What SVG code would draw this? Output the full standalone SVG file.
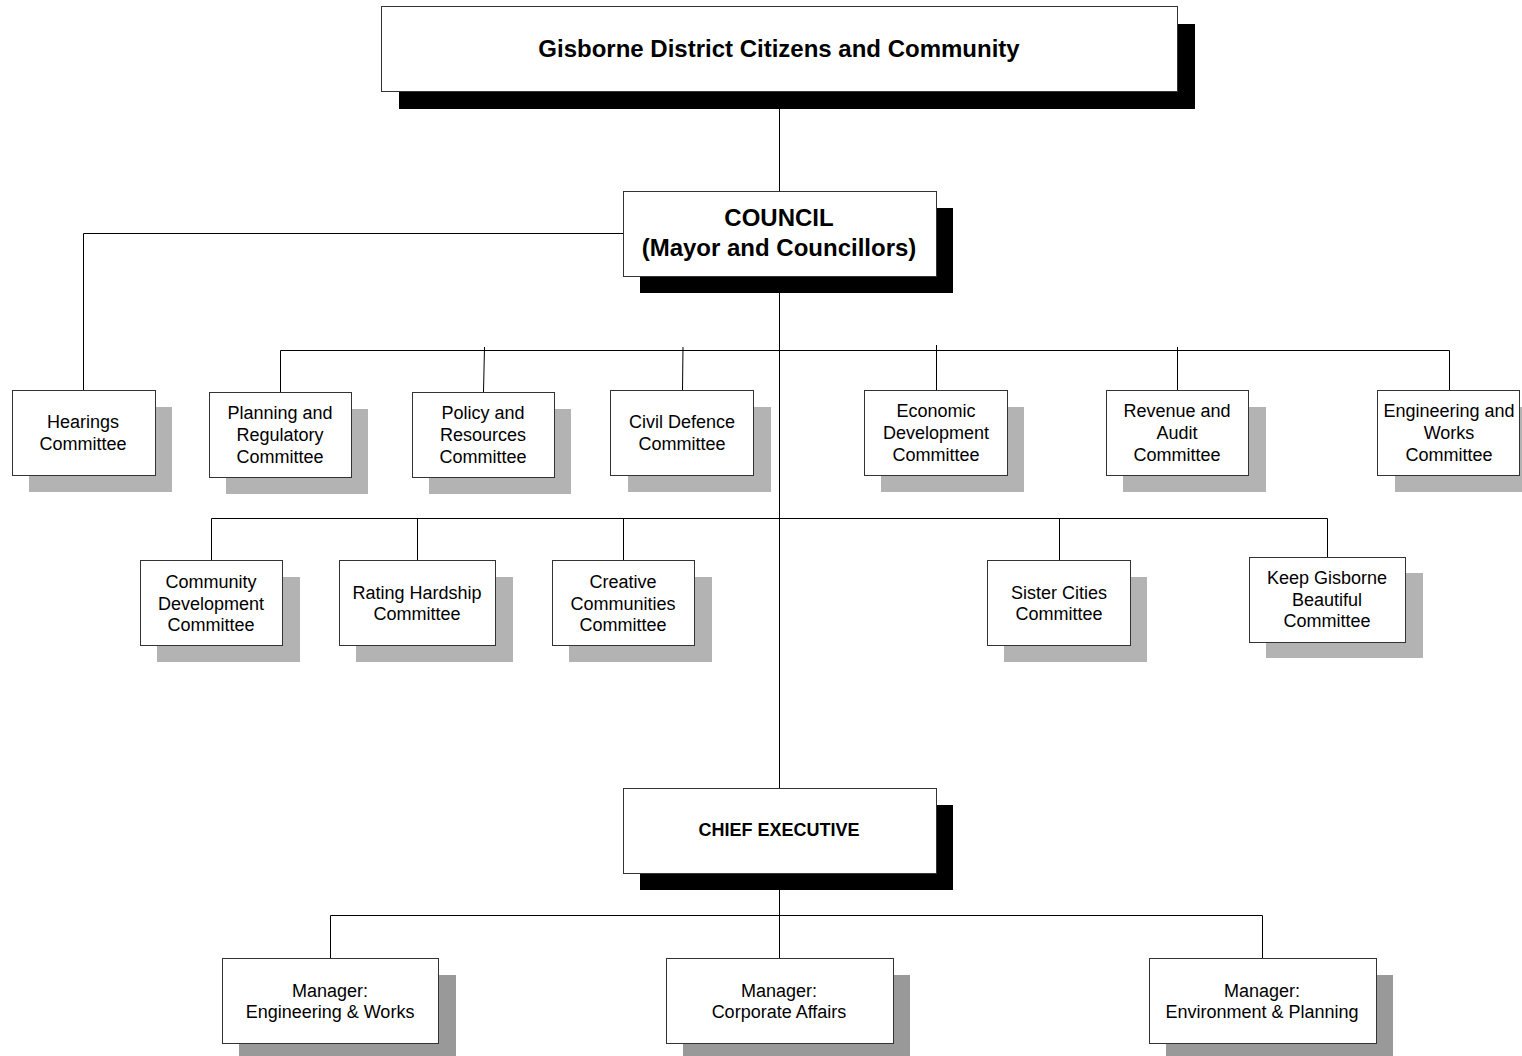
<svg xmlns="http://www.w3.org/2000/svg" width="1522" height="1056" viewBox="0 0 1522 1056">
<style>
.box{fill:#fff;stroke:#333;stroke-width:1}
.sh{fill:#b3b3b3}
.shd{fill:#999}
.shb{fill:#000}
.ln{stroke:#000;stroke-width:1;fill:none}
text{font-family:"Liberation Sans",Arial,sans-serif;fill:#000;text-anchor:middle}
.t{font-size:18px}
.b{font-weight:bold}
</style>
<rect width="1522" height="1056" fill="#fff"/>
<g id="connectors">
<path class="ln" d="M779.5 91V191M779.5 276V788M779.5 873V958"/>
<path class="ln" d="M623 233.5H83.5V390"/>
<path class="ln" d="M280.5 392V350.5H1449.5V390"/>
<path class="ln" d="M484.5 347L483.5 392M683 347L682.5 390M936.5 345V390M1177.5 347V390"/>
<path class="ln" d="M211.5 560V518.5H1327.5V557M417.5 518V560M623.5 518V560M1059.5 518V560"/>
<path class="ln" d="M330.5 958V915.5H1262.5V958"/>
</g>
<g id="citizens">
<rect class="shb" x="399" y="24" width="796" height="85"/>
<rect class="box" x="381.5" y="6.5" width="796" height="85"/>
<text class="b" x="779" y="57" font-size="24">Gisborne District Citizens and Community</text>
</g>
<g id="council">
<rect class="shb" x="640" y="208" width="313" height="85"/>
<rect class="box" x="623.5" y="191.5" width="313" height="85"/>
<text class="b" x="779" y="226" font-size="24">COUNCIL</text>
<text class="b" x="779" y="256" font-size="24">(Mayor and Councillors)</text>
</g>
<g id="hearings">
<rect class="sh" x="29" y="407" width="143" height="85"/>
<rect class="box" x="12.5" y="390.5" width="143" height="85"/>
<text class="t" x="83" y="428">Hearings</text>
<text class="t" x="83" y="450">Committee</text>
</g>
<g id="planning">
<rect class="sh" x="226" y="409" width="142" height="85"/>
<rect class="box" x="209.5" y="392.5" width="142" height="85"/>
<text class="t" x="280" y="419">Planning and</text>
<text class="t" x="280" y="441">Regulatory</text>
<text class="t" x="280" y="463">Committee</text>
</g>
<g id="policy">
<rect class="sh" x="429" y="409" width="142" height="85"/>
<rect class="box" x="412.5" y="392.5" width="142" height="85"/>
<text class="t" x="483" y="419">Policy and</text>
<text class="t" x="483" y="441">Resources</text>
<text class="t" x="483" y="463">Committee</text>
</g>
<g id="civil">
<rect class="sh" x="628" y="407" width="143" height="85"/>
<rect class="box" x="610.5" y="390.5" width="143" height="85"/>
<text class="t" x="682" y="428">Civil Defence</text>
<text class="t" x="682" y="450">Committee</text>
</g>
<g id="economic">
<rect class="sh" x="881" y="407" width="143" height="85"/>
<rect class="box" x="864.5" y="390.5" width="143" height="85"/>
<text class="t" x="936" y="417">Economic</text>
<text class="t" x="936" y="439">Development</text>
<text class="t" x="936" y="461">Committee</text>
</g>
<g id="revenue">
<rect class="sh" x="1123" y="407" width="143" height="85"/>
<rect class="box" x="1106.5" y="390.5" width="142" height="85"/>
<text class="t" x="1177" y="417">Revenue and</text>
<text class="t" x="1177" y="439">Audit</text>
<text class="t" x="1177" y="461">Committee</text>
</g>
<g id="engineering">
<rect class="sh" x="1395" y="407" width="127" height="85"/>
<rect class="box" x="1377.5" y="390.5" width="142" height="85"/>
<text class="t" x="1449" y="417">Engineering and</text>
<text class="t" x="1449" y="439">Works</text>
<text class="t" x="1449" y="461">Committee</text>
</g>
<g id="community">
<rect class="sh" x="157" y="577" width="143" height="85"/>
<rect class="box" x="140.5" y="560.5" width="142" height="85"/>
<text class="t" x="211" y="588">Community</text>
<text class="t" x="211" y="610">Development</text>
<text class="t" x="211" y="631">Committee</text>
</g>
<g id="rating">
<rect class="sh" x="356" y="577" width="157" height="85"/>
<rect class="box" x="339.5" y="560.5" width="156" height="85"/>
<text class="t" x="417" y="599">Rating Hardship</text>
<text class="t" x="417" y="620">Committee</text>
</g>
<g id="creative">
<rect class="sh" x="569" y="577" width="143" height="85"/>
<rect class="box" x="552.5" y="560.5" width="142" height="85"/>
<text class="t" x="623" y="588">Creative</text>
<text class="t" x="623" y="610">Communities</text>
<text class="t" x="623" y="631">Committee</text>
</g>
<g id="sister">
<rect class="sh" x="1004" y="577" width="143" height="85"/>
<rect class="box" x="987.5" y="560.5" width="143" height="85"/>
<text class="t" x="1059" y="599">Sister Cities</text>
<text class="t" x="1059" y="620">Committee</text>
</g>
<g id="keep">
<rect class="sh" x="1266" y="573" width="157" height="85"/>
<rect class="box" x="1249.5" y="557.5" width="156" height="85"/>
<text class="t" x="1327" y="584">Keep Gisborne</text>
<text class="t" x="1327" y="606">Beautiful</text>
<text class="t" x="1327" y="627">Committee</text>
</g>
<g id="chief">
<rect class="shb" x="640" y="805" width="313" height="85"/>
<rect class="box" x="623.5" y="788.5" width="313" height="85"/>
<text class="b" x="779" y="836" font-size="18">CHIEF EXECUTIVE</text>
</g>
<g id="mgr-eng">
<rect class="shd" x="239" y="975" width="217" height="81"/>
<rect class="box" x="222.5" y="958.5" width="216" height="85"/>
<text class="t" x="330" y="997">Manager:</text>
<text class="t" x="330" y="1018">Engineering &amp; Works</text>
</g>
<g id="mgr-corp">
<rect class="shd" x="683" y="975" width="227" height="81"/>
<rect class="box" x="666.5" y="958.5" width="227" height="85"/>
<text class="t" x="779" y="997">Manager:</text>
<text class="t" x="779" y="1018">Corporate Affairs</text>
</g>
<g id="mgr-env">
<rect class="shd" x="1166" y="975" width="227" height="81"/>
<rect class="box" x="1149.5" y="958.5" width="227" height="85"/>
<text class="t" x="1262" y="997">Manager:</text>
<text class="t" x="1262" y="1018">Environment &amp; Planning</text>
</g>
</svg>
